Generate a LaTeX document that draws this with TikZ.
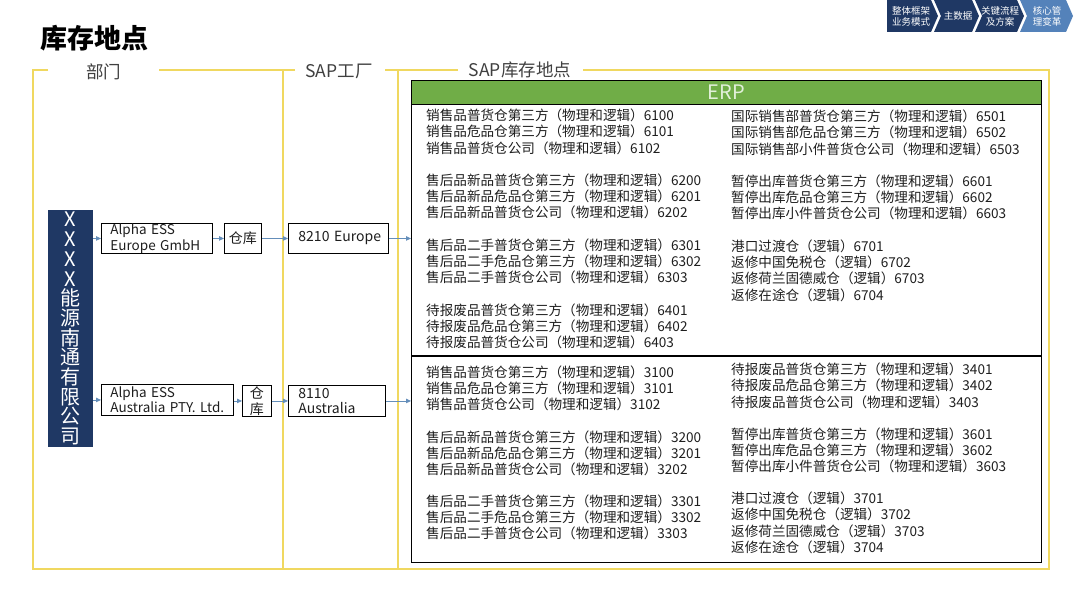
\documentclass[tikz,border=0pt]{standalone}
\usepackage{fontspec}
\setmainfont{Noto Sans CJK SC}
\usetikzlibrary{arrows.meta}
\definecolor{yel}{RGB}{240,216,96}
\definecolor{navy}{RGB}{31,56,100}
\definecolor{lblue}{RGB}{84,130,186}
\definecolor{erpgreen}{RGB}{112,173,71}
\definecolor{erptext}{RGB}{226,240,217}
\definecolor{arr}{RGB}{100,142,186}
\definecolor{txt}{RGB}{30,30,30}
\definecolor{lbl}{RGB}{64,64,64}
\tikzset{
  yframe/.style={draw=yel, line width=2pt},
  grplabel/.style={font=\fontsize{17.5}{20}\selectfont, text=lbl, inner sep=0pt},
  box/.style={draw=black, line width=0.9pt, anchor=north west, inner ysep=0pt, text=txt},
  item/.style={anchor=west, inner sep=0pt, font=\fontsize{13.6}{16}\selectfont, text=txt},
  conn/.style={draw=arr, line width=0.9pt, -{Triangle[length=5pt,width=4.5pt]}},
  chev/.style={text=white, font=\fontsize{9.5}{11}\selectfont, align=center, inner sep=0pt},
}
\begin{document}
\begin{tikzpicture}[x=1pt,y=-1pt]
\useasboundingbox (0,0) rectangle (1080,607);
\fill[white] (0,0) rectangle (1080,607);

% chevrons
\fill[navy] (887,0) -- (931,0) -- (938,16) -- (931,32) -- (887,32) -- cycle;
\fill[navy] (934,0) -- (972,0) -- (979,16) -- (972,32) -- (934,32) -- (941,16) -- cycle;
\fill[navy] (975,0) -- (1017,0) -- (1024,16) -- (1017,32) -- (975,32) -- (982,16) -- cycle;
\fill[lblue] (1020,0) -- (1066,0) -- (1073,16) -- (1066,32) -- (1020,32) -- (1027,16) -- cycle;
\node[chev] (c1) at (911,16) {整体框架\\业务模式};
\node[chev] (c2) at (958,16) {主数据};
\node[chev] (c3) at (1000,16) {关键流程\\及方案};
\node[chev] (c4) at (1047,16) {核心管\\理变革};

% title
\node[anchor=west, inner sep=0pt, font=\fontsize{27}{30}\selectfont\bfseries] (title) at (40,38) {库存地点};

% yellow frames
\draw[yframe] (48,70) -- (33,70) -- (33,569) -- (1049,569) -- (1049,70) -- (583,70);
\draw[yframe] (458,70) -- (385,70);
\draw[yframe] (295,70) -- (159,70);
\draw[yframe] (283,70) -- (283,569);
\draw[yframe] (398,70) -- (398,569);
\node[grplabel] (g1) at (103.5,72) {部门};
\node[grplabel] (g2) at (339,71) {SAP工厂};
\node[grplabel] (g3) at (520,70) {SAP库存地点};

% company bar
\node[fill=navy, minimum width=45pt, minimum height=237pt, inner sep=0pt, anchor=north west,
      text=white, align=center, font=\fontsize{20}{19.7}\selectfont] (bar) at (48,210)
  {X\\X\\X\\X\\能\\源\\南\\通\\有\\限\\公\\司};

% row 1
\node[box, inner xsep=9pt, text width=93pt, minimum height=30pt, align=left,
      font=\fontsize{13.5}{15.5}\selectfont] (e1) at (101,223) {Alpha ESS\\Europe GmbH};
\node[box, minimum width=37pt, minimum height=30pt, inner xsep=0pt,
      font=\fontsize{14}{16}\selectfont] (w1) at (224,223) {仓库};
\node[box, inner xsep=10pt, text width=80pt, minimum height=30pt, align=left,
      font=\fontsize{14}{16}\selectfont] (p1) at (288,223) {\mbox{8210 Europe}};

% row 2
\node[box, inner xsep=9pt, text width=114pt, minimum height=31pt, align=left,
      font=\fontsize{13.5}{15.5}\selectfont] (e2) at (101,384) {Alpha ESS\\Australia PTY. Ltd.};
\node[box, minimum width=29pt, minimum height=31pt, inner xsep=0pt, align=center,
      font=\fontsize{14}{16}\selectfont] (w2) at (242,385) {仓\\库};
\node[box, inner xsep=10pt, text width=77pt, minimum height=31pt, align=left,
      font=\fontsize{14}{15.5}\selectfont] (p2) at (288,385) {8110\\Australia};

% ERP box
\node[draw=black, line width=1.3pt, minimum width=630pt, minimum height=482pt, anchor=north west, inner sep=0pt] (erp) at (411,80) {};
\node[fill=erpgreen, draw=black, line width=1pt, minimum width=630pt, minimum height=24pt, anchor=north west, inner sep=0pt,
      text=erptext, font=\fontsize{20}{22}\selectfont] (hdr) at (411,80) {ERP};
\draw[black, line width=1.3pt] (411,356) -- (1041,356);

% connectors
\draw[conn] (bar.east |- e1.west) -- (e1.west);
\draw[conn] (e1) -- (w1);
\draw[conn] (w1) -- (p1);
\draw[conn] (p1.east) -- (p1.east -| erp.west);
\draw[conn] (bar.east |- e2.west) -- (e2.west);
\draw[conn] (e2.east |- w2.west) -- (w2.west);
\draw[conn] (w2) -- (p2);
\draw[conn] (p2.east) -- (p2.east -| erp.west);

% lists upper left
\foreach \yy/\tt [count=\i] in {
 115/销售品普货仓第三方（物理和逻辑）6100,
 131/销售品危品仓第三方（物理和逻辑）6101,
 148/销售品普货仓公司（物理和逻辑）6102,
 180/售后品新品普货仓第三方（物理和逻辑）6200,
 196/售后品新品危品仓第三方（物理和逻辑）6201,
 212/售后品新品普货仓公司（物理和逻辑）6202,
 245/售后品二手普货仓第三方（物理和逻辑）6301,
 261/售后品二手危品仓第三方（物理和逻辑）6302,
 277/售后品二手普货仓公司（物理和逻辑）6303,
 310/待报废品普货仓第三方（物理和逻辑）6401,
 326/待报废品危品仓第三方（物理和逻辑）6402,
 342/待报废品普货仓公司（物理和逻辑）6403}
 {\node[item] (ul\i) at (426,\yy) {\tt};}

% lists upper right
\foreach \yy/\tt [count=\i] in {
 116/国际销售部普货仓第三方（物理和逻辑）6501,
 132/国际销售部危品仓第三方（物理和逻辑）6502,
 149/国际销售部小件普货仓公司（物理和逻辑）6503,
 181/暂停出库普货仓第三方（物理和逻辑）6601,
 197/暂停出库危品仓第三方（物理和逻辑）6602,
 213/暂停出库小件普货仓公司（物理和逻辑）6603,
 246/港口过渡仓（逻辑）6701,
 262/返修中国免税仓（逻辑）6702,
 278/返修荷兰固德威仓（逻辑）6703,
 295/返修在途仓（逻辑）6704}
 {\node[item] (ur\i) at (731,\yy) {\tt};}

% lists lower left
\foreach \yy/\tt [count=\i] in {
 372/销售品普货仓第三方（物理和逻辑）3100,
 388/销售品危品仓第三方（物理和逻辑）3101,
 404/销售品普货仓公司（物理和逻辑）3102,
 437/售后品新品普货仓第三方（物理和逻辑）3200,
 453/售后品新品危品仓第三方（物理和逻辑）3201,
 469/售后品新品普货仓公司（物理和逻辑）3202,
 501/售后品二手普货仓第三方（物理和逻辑）3301,
 517/售后品二手危品仓第三方（物理和逻辑）3302,
 533/售后品二手普货仓公司（物理和逻辑）3303}
 {\node[item] (ll\i) at (426,\yy) {\tt};}

% lists lower right
\foreach \yy/\tt [count=\i] in {
 369/待报废品普货仓第三方（物理和逻辑）3401,
 385/待报废品危品仓第三方（物理和逻辑）3402,
 402/待报废品普货仓公司（物理和逻辑）3403,
 434/暂停出库普货仓第三方（物理和逻辑）3601,
 450/暂停出库危品仓第三方（物理和逻辑）3602,
 466/暂停出库小件普货仓公司（物理和逻辑）3603,
 498/港口过渡仓（逻辑）3701,
 514/返修中国免税仓（逻辑）3702,
 531/返修荷兰固德威仓（逻辑）3703,
 547/返修在途仓（逻辑）3704}
 {\node[item] (lr\i) at (731,\yy) {\tt};}
\end{tikzpicture}
\end{document}
